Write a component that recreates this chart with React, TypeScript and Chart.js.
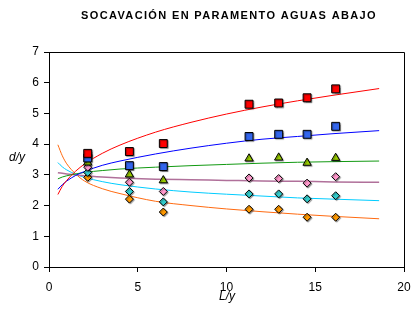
import React, { useEffect, useRef } from "react";
import { Chart, registerables } from "chart.js";

Chart.register(...registerables);

const TITLE = "SOCAVACIÓN EN PARAMENTO AGUAS ABAJO";
const X_TITLE = "L/y";
const Y_TITLE = "d/y";

// measured points
const xPts = [2.18, 4.53, 6.44, 11.27, 12.94, 14.54, 16.15];
const redPts = [3.70, 3.76, 4.02, 5.30, 5.34, 5.51, 5.80];
const bluePts = [3.55, 3.30, 3.27, 4.25, 4.32, 4.32, 4.58];
const greenPts = [3.40, 3.01, 2.82, 3.53, 3.56, 3.39, 3.55];
const pinkPts = [3.25, 2.76, 2.46, 2.90, 2.88, 2.73, 2.94];
const cyanPts = [3.08, 2.46, 2.12, 2.38, 2.38, 2.22, 2.32];
const orangePts = [2.92, 2.21, 1.79, 1.88, 1.88, 1.62, 1.62];

// trend curves
const xCurve = [0.5, 0.75, 1, 1.5, 2, 3, 4, 6, 8, 10, 12, 14, 16, 18.6];
const redCurve = [2.36, 2.63, 2.82, 3.12, 3.35, 3.70, 3.97, 4.39, 4.71, 4.98, 5.21, 5.41, 5.59, 5.81];
const blueCurve = [2.53, 2.68, 2.80, 2.98, 3.11, 3.31, 3.45, 3.68, 3.87, 4.03, 4.16, 4.25, 4.34, 4.44];
const greenCurve = [2.87, 2.93, 2.97, 3.03, 3.08, 3.14, 3.19, 3.25, 3.30, 3.34, 3.38, 3.41, 3.43, 3.45];
const mauveCurve = [3.07, 3.05, 3.03, 3.00, 2.97, 2.93, 2.90, 2.86, 2.84, 2.82, 2.80, 2.79, 2.77, 2.76];
const cyanCurve = [3.40, 3.26, 3.16, 3.02, 2.92, 2.78, 2.68, 2.54, 2.44, 2.37, 2.31, 2.25, 2.21, 2.16];
const orangeCurve = [3.98, 3.62, 3.36, 3.03, 2.80, 2.55, 2.39, 2.14, 2.00, 1.89, 1.80, 1.72, 1.65, 1.57];

const xTicks = [0, 5, 10, 15, 20];
const yTicks = [0, 1, 2, 3, 4, 5, 6, 7];

const toXY = (xs: number[], ys: number[]) => xs.map((x, i) => ({ x, y: ys[i] }));

const markerSet = (ys: number[], style: string, fill: string, r: number) => ({
  data: toXY(xPts, ys),
  showLine: false,
  pointStyle: style,
  pointRadius: r,
  pointBackgroundColor: fill,
  pointBorderColor: "#000",
  pointBorderWidth: 1,
  isMarker: true,
});

const curveSet = (ys: number[], color: string, w = 1) => ({
  data: toXY(xCurve, ys),
  showLine: true,
  borderColor: color,
  borderWidth: w,
  pointRadius: 0,
  tension: 0.4,
  cubicInterpolationMode: "monotone",
  fill: false,
});

const decor = {
  id: "decor",
  beforeDatasetDraw(chart: any, args: any) {
    const ds = chart.data.datasets[args.index];
    const ctx = chart.ctx;
    ctx.save();
    if (ds.isMarker) {
      ctx.shadowColor = "rgba(0,0,0,0.35)";
      ctx.shadowOffsetX = 1;
      ctx.shadowOffsetY = 1;
      ctx.shadowBlur = 1;
    }
  },
  afterDatasetDraw(chart: any) {
    chart.ctx.restore();
  },
  afterDraw(chart: any) {
    const ctx = chart.ctx;
    const { left, right, top, bottom } = chart.chartArea;
    ctx.save();
    ctx.strokeStyle = "#000";
    ctx.lineWidth = 1;
    ctx.beginPath();
    ctx.moveTo(left, Math.round(top) + 0.5);
    ctx.lineTo(Math.round(right) + 0.5, Math.round(top) + 0.5);
    ctx.lineTo(Math.round(right) + 0.5, bottom);
    ctx.stroke();

    ctx.fillStyle = "#000";
    ctx.textAlign = "center";
    ctx.textBaseline = "middle";
    ctx.font = 'bold 11px "Liberation Sans", Arial, sans-serif';
    try { (ctx as any).letterSpacing = "1.35px"; } catch (e) {}
    ctx.fillText(TITLE, 229, 16);
    try { (ctx as any).letterSpacing = "0px"; } catch (e) {}

    ctx.font = 'italic 12px "Liberation Sans", Arial, sans-serif';
    ctx.fillText(Y_TITLE, 17, 158);
    ctx.fillText(X_TITLE, 227, 297);
    ctx.restore();
  },
};

export default function App() {
  const ref = useRef<HTMLCanvasElement | null>(null);
  useEffect(() => {
    document.body.style.margin = "0";
    const canvas = ref.current!;
    const font = { family: '"Liberation Sans", Arial, sans-serif', size: 12 };
    const chart = new Chart(canvas, {
      type: "scatter",
      data: {
        datasets: [
          markerSet(redPts, "rect", "#ff0000", 5.6),
          markerSet(bluePts, "rect", "#3366ee", 5.6),
          markerSet(greenPts, "triangle", "#99cc00", 4.8),
          markerSet(pinkPts, "rectRot", "#ff99cc", 4),
          markerSet(cyanPts, "rectRot", "#33cccc", 4),
          markerSet(orangePts, "rectRot", "#ff9900", 4),
          curveSet(redCurve, "#ff0000"),
          curveSet(blueCurve, "#0000ff"),
          curveSet(greenCurve, "#119911"),
          curveSet(mauveCurve, "#b0709a", 1.5),
          curveSet(cyanCurve, "#00ccff"),
          curveSet(orangeCurve, "#ff6a10"),
        ] as any,
      },
      options: {
        responsive: false,
        animation: false,
        events: [],
        layout: { padding: { top: 52, right: 9, left: 0, bottom: 0 } },
        plugins: { legend: { display: false }, tooltip: { enabled: false }, title: { display: false } },
        scales: {
          x: {
            type: "linear",
            min: 0,
            max: 20,
            afterBuildTicks: (s: any) => { s.ticks = xTicks.map((v) => ({ value: v })); },
            afterFit: (s: any) => { s.height = 44; s.paddingLeft = 0; s.paddingRight = 0; },
            ticks: { color: "#000", font, padding: 8, maxRotation: 0 },
            grid: { drawOnChartArea: false, drawTicks: true, tickLength: 5, color: "#000" },
            border: { display: true, color: "#000", width: 1 },
          },
          y: {
            type: "linear",
            min: 0,
            max: 7,
            afterBuildTicks: (s: any) => { s.ticks = yTicks.map((v) => ({ value: v })); },
            afterFit: (s: any) => { s.width = 49; },
            ticks: { color: "#000", font, padding: 5 },
            grid: { drawOnChartArea: false, drawTicks: true, tickLength: 5, color: "#000" },
            border: { display: true, color: "#000", width: 1 },
          },
        },
      } as any,
      plugins: [decor],
    });
    return () => chart.destroy();
  }, []);
  return (
    <div style={{ width: 413, height: 311, background: "#fff" }}>
      <canvas ref={ref} width={413} height={311} style={{ display: "block" }} />
    </div>
  );
}
